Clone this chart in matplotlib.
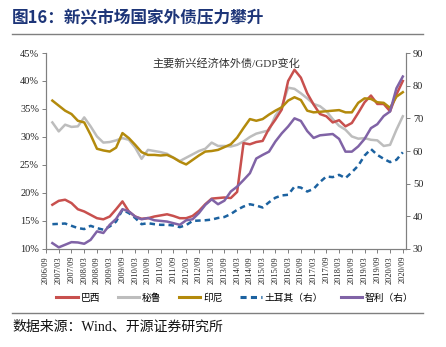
import matplotlib
matplotlib.use("Agg")
import matplotlib.pyplot as plt
from matplotlib.lines import Line2D

plt.rcParams['font.family'] = ['Liberation Serif', 'Noto Sans CJK SC', 'DejaVu Sans']

tick_labels = []
for y in range(2006, 2021):
    for m in ("03", "09"):
        if (y == 2006 and m == "03"):
            continue
        tick_labels.append(f"{y}/{m}")

brazil = [17.9, 18.6, 18.8, 18.2, 17.1, 16.7, 16.1, 15.5, 15.3, 15.8, 17.1, 18.5, 16.7, 15.8,
          15.4, 15.5, 15.8, 16.0, 16.2, 15.9, 15.5, 15.5, 15.9, 16.8, 18.0, 19.0, 19.1, 19.2,
          19.1, 20.2, 28.9, 28.7, 29.1, 29.3, 31.5, 33.1, 34.9, 40.0, 42.0, 40.6, 37.8, 35.8,
          34.1, 33.7, 32.6, 33.0, 31.9, 32.5, 34.3, 36.2, 37.4, 35.9, 35.9, 34.6, 37.6, 40.0]
peru = [32.6, 31.0, 32.2, 31.8, 31.9, 33.5, 31.9, 30.1, 29.0, 29.1, 29.4, 29.8, 29.5, 28.1,
        26.1, 27.7, 27.5, 27.3, 27.0, 26.3, 25.7, 26.3, 26.9, 27.5, 27.9, 29.0, 28.4, 28.4,
        28.3, 28.6, 29.2, 30.0, 30.6, 30.9, 31.2, 33.8, 35.4, 38.8, 38.6, 37.8, 36.9, 35.9,
        35.5, 34.6, 33.2, 32.0, 31.3, 30.1, 29.7, 29.8, 29.5, 29.4, 28.4, 28.6, 31.3, 33.7]
indonesia = [36.5, 35.6, 34.7, 34.1, 32.9, 32.6, 30.4, 27.9, 27.6, 27.4, 28.1, 30.7, 29.8, 28.6,
             27.3, 26.8, 26.8, 26.7, 26.8, 26.3, 25.6, 25.1, 25.9, 26.7, 27.4, 27.5, 27.7, 28.2,
             28.7, 29.9, 31.6, 33.2, 32.9, 33.2, 34.0, 34.7, 35.3, 36.5, 37.1, 36.6, 34.7, 34.4,
             34.5, 34.6, 34.7, 34.8, 34.4, 34.4, 36.1, 36.9, 36.8, 36.2, 36.1, 35.2, 37.2, 38.0]
turkey = [37.6, 37.7, 37.8, 37.1, 36.4, 36.1, 37.1, 36.4, 35.9, 36.9, 38.4, 42.0, 41.0, 39.5,
          37.6, 37.9, 37.6, 37.4, 37.4, 37.2, 36.7, 37.3, 38.6, 38.7, 38.8, 39.0, 39.5, 39.8,
          40.7, 42.0, 43.0, 43.7, 43.3, 42.7, 44.3, 45.7, 46.4, 46.6, 49.1, 48.8, 47.6, 48.4,
          50.5, 52.2, 52.0, 52.7, 51.7, 53.5, 55.5, 58.6, 60.6, 58.8, 57.6, 56.6, 57.3, 59.6]
chile = [31.8, 30.5, 31.3, 32.1, 32.0, 31.6, 32.8, 35.4, 34.9, 37.4, 39.2, 42.2, 41.5, 39.9,
         39.1, 39.5, 38.8, 38.6, 38.4, 37.9, 37.4, 38.8, 39.1, 41.0, 43.5, 45.2, 43.7, 44.8,
         47.6, 49.1, 51.1, 53.2, 57.7, 58.8, 59.8, 62.9, 65.4, 67.5, 70.0, 69.2, 66.1, 64.0,
         64.8, 65.0, 65.2, 63.7, 59.8, 59.8, 61.4, 63.7, 67.0, 68.2, 70.7, 72.1, 79.2, 82.8]

names = ["巴西", "秘鲁", "印尼", "土耳其（右）", "智利（右）"]
colors = ["#C8504E", "#BDBDBD", "#B38A0C", "#1C62A0", "#8063A6"]

x = list(range(1, len(brazil) + 1))

fig = plt.figure(figsize=(4.46, 3.47), dpi=100)
ax = fig.add_axes([46/446, 1-249/347, 360/446, 196/347])
ax2 = ax.twinx()

lw = 1.8
ax.plot(x, brazil, color=colors[0], lw=lw, zorder=3)
ax.plot(x, peru, color=colors[1], lw=lw, zorder=2)
ax.plot(x, indonesia, color=colors[2], lw=lw, zorder=3)
ax2.plot(x, turkey, color=colors[3], lw=lw, ls=(0, (2.2, 1.6)))
ax2.plot(x, chile, color=colors[4], lw=lw)

ax.set_xlim(0, 56.5)
ax.set_ylim(10, 45)
ax2.set_ylim(30, 90)
ax.set_yticks(range(10, 46, 5))
ax.set_yticklabels([f"{v}%" for v in range(10, 46, 5)])
ax2.set_yticks(range(30, 91, 10))
ax.set_xticks(range(0, 57, 2))
ax.set_xticklabels(tick_labels, rotation=90)

spine_c = "#808080"
for a in (ax, ax2):
    a.spines['top'].set_visible(False)
    for s in ('left', 'right', 'bottom'):
        a.spines[s].set_color(spine_c)
        a.spines[s].set_linewidth(0.8)
    a.tick_params(colors='#222222', labelsize=7.5, length=3, width=0.7, direction='out')
    a.tick_params(axis='both', color=spine_c)
ax.tick_params(axis='x', labelsize=6, pad=2)
ax.tick_params(axis='y', pad=2)
ax2.tick_params(axis='y', pad=2)

ax.text(0.5, 0.975, "主要新兴经济体外债/GDP变化", transform=ax.transAxes, ha='center', va='top',
        fontsize=8, color='#333333')

handles = [Line2D([], [], color=colors[0], lw=2.2),
           Line2D([], [], color=colors[1], lw=2.2),
           Line2D([], [], color=colors[2], lw=2.2),
           Line2D([], [], color=colors[3], lw=2.2, ls=(0, (2.0, 1.4))),
           Line2D([], [], color=colors[4], lw=2.2)]
fig.legend(handles, names, loc='center', bbox_to_anchor=(0.527, 1-298/347), ncol=5,
           frameon=False, fontsize=7, handlelength=2.2, columnspacing=1.8, handletextpad=0.3)

fig.text(12/446, 1-18/347, "图16：新兴市场国家外债压力攀升", ha='left', va='center',
         fontsize=12, fontweight='bold', color='#1D3578', family=['Noto Sans CJK SC'])
fig.add_artist(Line2D([12/446, 423/446], [1-34/347, 1-34/347], color='#7F7F7F', lw=1.0))
fig.add_artist(Line2D([12/446, 423/446], [1-313/347, 1-313/347], color='#7F7F7F', lw=1.0))
fig.text(12/446, 1-327/347, "数据来源：Wind、开源证券研究所", ha='left', va='center',
         fontsize=10, color='#111111')

fig.savefig("out.png", dpi=100)
